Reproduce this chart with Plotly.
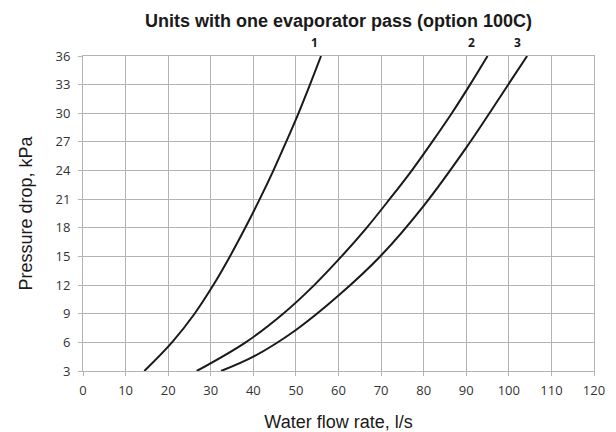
import plotly.graph_objects as go

# Curve 1
c1_flow = [14.4, 20.9, 26.2, 30.6, 34.5, 38.1, 41.5, 44.7, 47.7, 50.6, 53.3, 55.9]
c1_dp = [3, 6, 9, 12, 15, 18, 21, 24, 27, 30, 33, 36]
# Curve 2
c2_flow = [26.7, 38.2, 47.0, 54.3, 60.7, 66.6, 72.0, 77.2, 82.0, 86.6, 90.9, 95.0]
c2_dp = [3, 6, 9, 12, 15, 18, 21, 24, 27, 30, 33, 36]
# Curve 3
c3_flow = [32.4, 40, 50, 60, 70, 80, 90, 100, 104.3]
c3_dp = [3, 4.5, 7.3, 10.9, 15.1, 20.3, 26.4, 33.1, 36]

curve_labels = ["1", "2", "3"]
label_x = [54.3, 91.3, 102.1]

x_ticks = list(range(0, 121, 10))
y_ticks = list(range(3, 37, 3))

title = "Units with one evaporator pass (option 100C)"
x_title = "Water flow rate, l/s"
y_title = "Pressure drop, kPa"

fig = go.Figure()
for fx, fy in [(c1_flow, c1_dp), (c2_flow, c2_dp), (c3_flow, c3_dp)]:
    fig.add_trace(go.Scatter(x=fx, y=fy, mode="lines",
                             line=dict(color="#1a1a1a", width=2, shape="spline", smoothing=1.0),
                             showlegend=False, hoverinfo="skip"))

for lab, lx in zip(curve_labels, label_x):
    fig.add_annotation(x=lx, y=36, text="<b>" + lab + "</b>", showarrow=False,
                       yanchor="bottom", yshift=3,
                       font=dict(family="Open Sans, Noto Sans, sans-serif", size=12, color="#1a1a1a"))

grid = "#b3b3b3"
tickfont = dict(family="Open Sans, Noto Sans, sans-serif", size=13, color="#333333")
titlefont = dict(family="Liberation Sans, Arial, sans-serif", size=18, color="#1a1a1a")
fig.update_layout(
    width=616, height=432,
    margin=dict(l=83, r=22, t=56, b=61),
    paper_bgcolor="white", plot_bgcolor="white",
    title=dict(text="<b>" + title + "</b>", x=0.5, xref="paper", xanchor="center",
               y=0.953, yref="container", yanchor="middle",
               font=dict(family="Liberation Sans, Arial, sans-serif", size=18, color="#1a1a1a")),
    xaxis=dict(range=[0, 120], tickvals=x_ticks, showgrid=True, gridcolor=grid, gridwidth=1,
               showline=True, linecolor=grid, linewidth=1, mirror=True,
               ticks="outside", ticklen=4, tickcolor=grid, ticklabelstandoff=3,
               tickfont=tickfont, automargin=False,
               title=dict(text=x_title, standoff=19, font=titlefont),
               zeroline=False, fixedrange=True),
    yaxis=dict(range=[3, 36], tickvals=y_ticks, showgrid=True, gridcolor=grid, gridwidth=1,
               showline=True, linecolor=grid, linewidth=1, mirror=True,
               ticks="outside", ticklen=4, tickcolor=grid, ticklabelstandoff=5,
               tickfont=tickfont, automargin=False,
               title=dict(text=y_title, standoff=18, font=titlefont),
               zeroline=False, fixedrange=True),
)

fig.write_html("out.html")
